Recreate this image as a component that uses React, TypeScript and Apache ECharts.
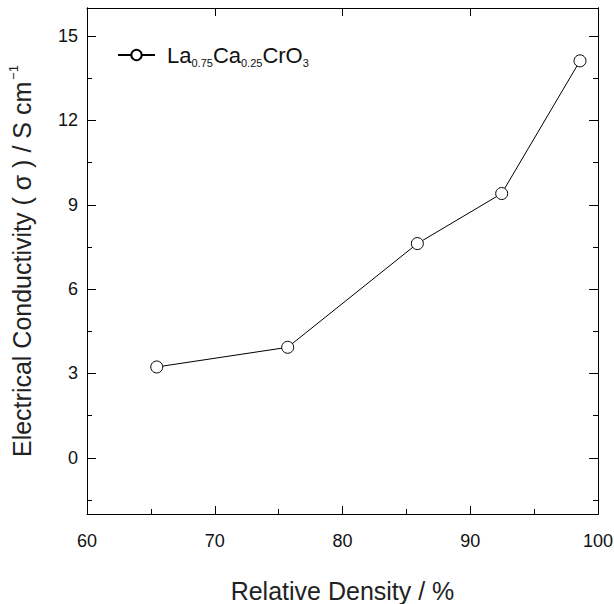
import React, { useEffect, useRef } from "react";
import * as echarts from "echarts";

const density = [65.46, 75.71, 85.86, 92.46, 98.59];
const conductivity = [3.23, 3.93, 7.62, 9.4, 14.12];
const yMajor = [0, 3, 6, 9, 12, 15];
const yMinor = [-1.5, 1.5, 4.5, 7.5, 10.5, 13.5];
const seriesName = "La0.75Ca0.25CrO3";
const legendRich = "La{sub|0.75}Ca{sub|0.25}CrO{sub|3}";

export default function App() {
  const ref = useRef<HTMLDivElement>(null);
  useEffect(() => {
    if (!ref.current) return;
    const chart = echarts.init(ref.current, null, { renderer: "svg" });
    const font = "Liberation Sans, Arial, sans-serif";
    const lineStyle = { color: "#000", width: 1 };
    const baseY = {
      type: "value" as const,
      min: -2,
      max: 16,
      splitLine: { show: false },
      axisLine: { show: true, onZero: false, lineStyle },
    };
    chart.setOption({
      animation: false,
      backgroundColor: "#fff",
      textStyle: { fontFamily: font },
      grid: { left: 87, right: 16, top: 8, bottom: 90, containLabel: false, outerBoundsMode: "none" },
      legend: {
        show: true,
        left: 112,
        top: 39,
        itemWidth: 37,
        itemHeight: 13,
        data: [seriesName],
        formatter: () => legendRich,
        textStyle: {
          fontFamily: font,
          fontSize: 22,
          color: "#111",
          padding: [0, 0, 0, 7],
          rich: {
            sub: { fontSize: 11, fontFamily: font, color: "#111", padding: [15, 0, 0, 0] },
          },
        },
      },
      xAxis: [
        {
          type: "value",
          position: "bottom",
          min: 60,
          max: 100,
          interval: 10,
          splitLine: { show: false },
          axisLine: { show: true, onZero: false, lineStyle },
          axisTick: { show: true, inside: true, length: 8, lineStyle },
          minorTick: { show: true, splitNumber: 2, length: 5, lineStyle },
          axisLabel: { fontSize: 18, color: "#111", margin: 18, fontFamily: font },
          name: "Relative Density / %",
          nameLocation: "middle",
          nameGap: 64,
          nameTextStyle: { fontSize: 25, color: "#222", fontFamily: font },
        },
        {
          type: "value",
          position: "top",
          min: 60,
          max: 100,
          interval: 10,
          splitLine: { show: false },
          axisLine: { show: true, onZero: false, lineStyle },
          axisTick: { show: true, inside: true, length: 8, lineStyle },
          axisLabel: { show: false },
        },
      ],
      yAxis: [
        {
          ...baseY,
          position: "left",
          axisTick: { show: true, inside: true, length: 9, lineStyle, customValues: yMajor },
          axisLabel: { fontSize: 18, color: "#111", margin: 9, fontFamily: font, customValues: yMajor },
          name: "Electrical Conductivity ( σ ) / S cm{sup|−1}",
          nameLocation: "middle",
          nameRotate: 90,
          nameGap: 51,
          nameTextStyle: {
            fontSize: 25,
            color: "#222",
            fontFamily: font,
            rich: { sup: { fontSize: 13, color: "#222", fontFamily: font, padding: [0, 0, 16, 2] } },
          },
        },
        {
          ...baseY,
          position: "left",
          axisTick: { show: true, inside: true, length: 5, lineStyle, customValues: yMinor },
          axisLabel: { show: false },
        },
        {
          ...baseY,
          position: "right",
          axisTick: { show: true, inside: true, length: 9, lineStyle, customValues: yMajor },
          axisLabel: { show: false },
        },
        {
          ...baseY,
          position: "right",
          axisTick: { show: true, inside: true, length: 5, lineStyle, customValues: yMinor },
          axisLabel: { show: false },
        },
      ],
      series: [
        {
          name: seriesName,
          type: "line",
          xAxisIndex: 0,
          yAxisIndex: 0,
          data: density.map((d, i) => [d, conductivity[i]]),
          symbol: "circle",
          symbolSize: 12,
          lineStyle: { color: "#000", width: 1 },
          itemStyle: { color: "#fff", borderColor: "#000", borderWidth: 1 },
        },
      ],
    });
    return () => chart.dispose();
  }, []);
  return <div ref={ref} style={{ width: 614, height: 604, position: "absolute", left: 0, top: 0 }} />;
}
